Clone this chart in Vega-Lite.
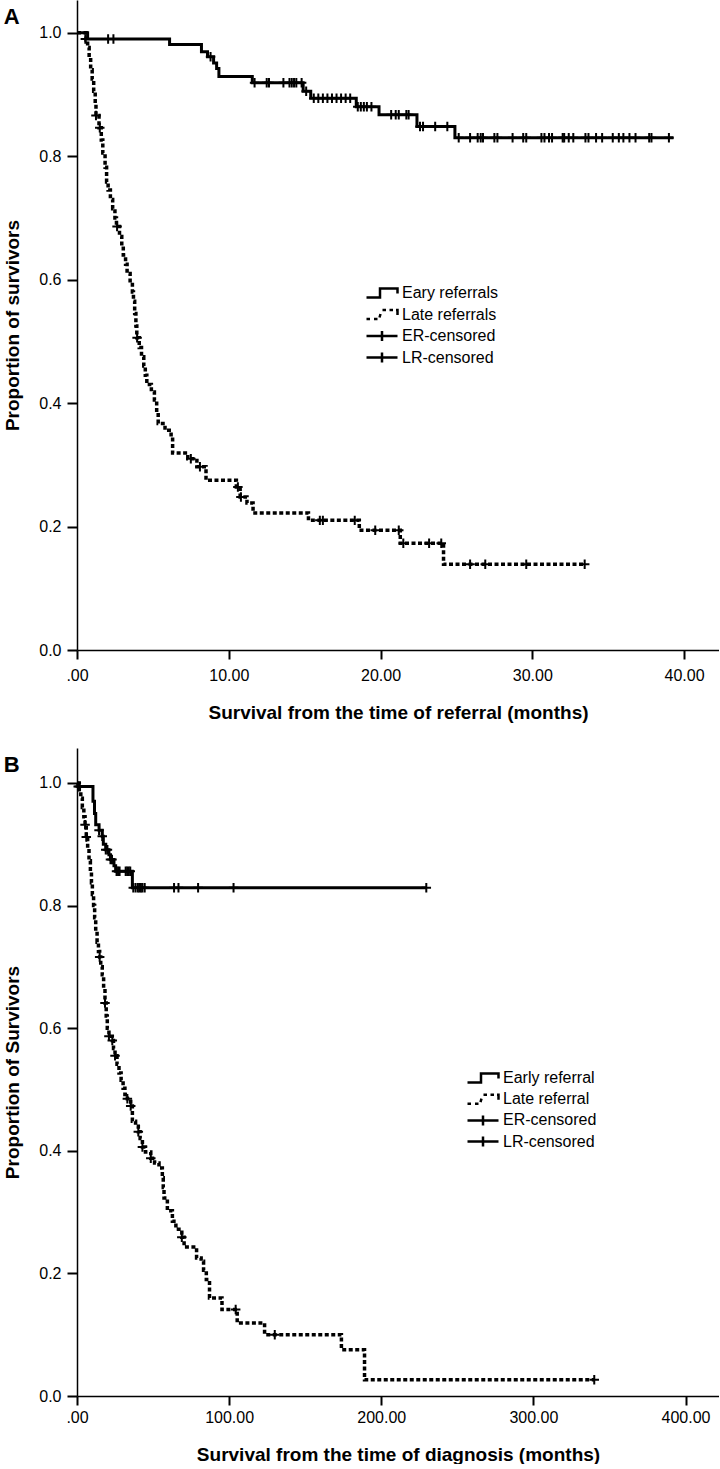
{
  "$schema": "https://vega.github.io/schema/vega-lite/v6.json",
  "padding": {"left": 3, "top": 0, "right": 0, "bottom": 0},
  "background": "white",
  "spacing": 26,
  "config": {
    "view": {"stroke": null},
    "font": "Liberation Sans",
    "axis": {
      "grid": false,
      "domainColor": "black",
      "domainWidth": 1.5,
      "tickColor": "black",
      "tickWidth": 2,
      "labelColor": "black",
      "labelFont": "Liberation Sans",
      "labelFontSize": 16,
      "labelFlush": false,
      "titleFont": "Liberation Sans",
      "titleFontSize": 19,
      "titleFontWeight": "bold",
      "titleColor": "black"
    },
    "legend": {
      "labelFont": "Liberation Sans",
      "labelFontSize": 16,
      "labelColor": "black",
      "padding": 0
    },
    "title": {"font": "Liberation Sans", "color": "black"}
  },
  "datasets": {
    "a": [
      {"g": "E", "k": "s", "t": 0, "s": 1.0},
      {"g": "E", "k": "s", "t": 0.7, "s": 0.99},
      {"g": "E", "k": "s", "t": 6.1, "s": 0.981},
      {"g": "E", "k": "s", "t": 8.2, "s": 0.969},
      {"g": "E", "k": "s", "t": 8.6, "s": 0.961},
      {"g": "E", "k": "s", "t": 9.0, "s": 0.951},
      {"g": "E", "k": "s", "t": 9.2, "s": 0.942},
      {"g": "E", "k": "s", "t": 9.35, "s": 0.929},
      {"g": "E", "k": "s", "t": 11.55, "s": 0.919},
      {"g": "E", "k": "s", "t": 14.9, "s": 0.905},
      {"g": "E", "k": "s", "t": 15.4, "s": 0.894},
      {"g": "E", "k": "s", "t": 18.4, "s": 0.88},
      {"g": "E", "k": "s", "t": 19.9, "s": 0.867},
      {"g": "E", "k": "s", "t": 22.4, "s": 0.848},
      {"g": "E", "k": "s", "t": 24.9, "s": 0.83},
      {"g": "E", "k": "s", "t": 39.3, "s": 0.83},
      {"g": "E", "k": "c", "t": 0.55, "s": 0.99},
      {"g": "E", "k": "c", "t": 2.05, "s": 0.99},
      {"g": "E", "k": "c", "t": 2.4, "s": 0.99},
      {"g": "E", "k": "c", "t": 8.8, "s": 0.961},
      {"g": "E", "k": "c", "t": 11.7, "s": 0.919},
      {"g": "E", "k": "c", "t": 12.5, "s": 0.919},
      {"g": "E", "k": "c", "t": 12.65, "s": 0.919},
      {"g": "E", "k": "c", "t": 13.6, "s": 0.919},
      {"g": "E", "k": "c", "t": 14.0, "s": 0.919},
      {"g": "E", "k": "c", "t": 14.15, "s": 0.919},
      {"g": "E", "k": "c", "t": 14.3, "s": 0.919},
      {"g": "E", "k": "c", "t": 14.45, "s": 0.919},
      {"g": "E", "k": "c", "t": 14.8, "s": 0.919},
      {"g": "E", "k": "c", "t": 15.1, "s": 0.905},
      {"g": "E", "k": "c", "t": 15.6, "s": 0.894},
      {"g": "E", "k": "c", "t": 15.9, "s": 0.894},
      {"g": "E", "k": "c", "t": 16.2, "s": 0.894},
      {"g": "E", "k": "c", "t": 16.5, "s": 0.894},
      {"g": "E", "k": "c", "t": 16.8, "s": 0.894},
      {"g": "E", "k": "c", "t": 17.1, "s": 0.894},
      {"g": "E", "k": "c", "t": 17.4, "s": 0.894},
      {"g": "E", "k": "c", "t": 17.7, "s": 0.894},
      {"g": "E", "k": "c", "t": 18.0, "s": 0.894},
      {"g": "E", "k": "c", "t": 18.5, "s": 0.88},
      {"g": "E", "k": "c", "t": 18.7, "s": 0.88},
      {"g": "E", "k": "c", "t": 18.9, "s": 0.88},
      {"g": "E", "k": "c", "t": 19.1, "s": 0.88},
      {"g": "E", "k": "c", "t": 19.4, "s": 0.88},
      {"g": "E", "k": "c", "t": 20.7, "s": 0.867},
      {"g": "E", "k": "c", "t": 21.0, "s": 0.867},
      {"g": "E", "k": "c", "t": 21.2, "s": 0.867},
      {"g": "E", "k": "c", "t": 21.7, "s": 0.867},
      {"g": "E", "k": "c", "t": 21.85, "s": 0.867},
      {"g": "E", "k": "c", "t": 22.6, "s": 0.848},
      {"g": "E", "k": "c", "t": 22.8, "s": 0.848},
      {"g": "E", "k": "c", "t": 23.6, "s": 0.848},
      {"g": "E", "k": "c", "t": 24.4, "s": 0.848},
      {"g": "E", "k": "c", "t": 25.15, "s": 0.83},
      {"g": "E", "k": "c", "t": 25.9, "s": 0.83},
      {"g": "E", "k": "c", "t": 26.4, "s": 0.83},
      {"g": "E", "k": "c", "t": 26.6, "s": 0.83},
      {"g": "E", "k": "c", "t": 26.75, "s": 0.83},
      {"g": "E", "k": "c", "t": 27.5, "s": 0.83},
      {"g": "E", "k": "c", "t": 27.7, "s": 0.83},
      {"g": "E", "k": "c", "t": 28.7, "s": 0.83},
      {"g": "E", "k": "c", "t": 29.4, "s": 0.83},
      {"g": "E", "k": "c", "t": 29.6, "s": 0.83},
      {"g": "E", "k": "c", "t": 30.6, "s": 0.83},
      {"g": "E", "k": "c", "t": 30.8, "s": 0.83},
      {"g": "E", "k": "c", "t": 31.1, "s": 0.83},
      {"g": "E", "k": "c", "t": 31.3, "s": 0.83},
      {"g": "E", "k": "c", "t": 32.0, "s": 0.83},
      {"g": "E", "k": "c", "t": 32.1, "s": 0.83},
      {"g": "E", "k": "c", "t": 32.4, "s": 0.83},
      {"g": "E", "k": "c", "t": 32.7, "s": 0.83},
      {"g": "E", "k": "c", "t": 33.5, "s": 0.83},
      {"g": "E", "k": "c", "t": 33.7, "s": 0.83},
      {"g": "E", "k": "c", "t": 34.2, "s": 0.83},
      {"g": "E", "k": "c", "t": 34.6, "s": 0.83},
      {"g": "E", "k": "c", "t": 35.3, "s": 0.83},
      {"g": "E", "k": "c", "t": 35.7, "s": 0.83},
      {"g": "E", "k": "c", "t": 36.0, "s": 0.83},
      {"g": "E", "k": "c", "t": 36.4, "s": 0.83},
      {"g": "E", "k": "c", "t": 36.8, "s": 0.83},
      {"g": "E", "k": "c", "t": 37.7, "s": 0.83},
      {"g": "E", "k": "c", "t": 37.85, "s": 0.83},
      {"g": "E", "k": "c", "t": 39.0, "s": 0.83},
      {"g": "L", "k": "s", "t": 0, "s": 1.0},
      {"g": "L", "k": "s", "t": 0.6, "s": 0.988},
      {"g": "L", "k": "s", "t": 0.7, "s": 0.976},
      {"g": "L", "k": "s", "t": 0.8, "s": 0.96},
      {"g": "L", "k": "s", "t": 0.9, "s": 0.94},
      {"g": "L", "k": "s", "t": 1.0, "s": 0.925},
      {"g": "L", "k": "s", "t": 1.1, "s": 0.905},
      {"g": "L", "k": "s", "t": 1.2, "s": 0.885},
      {"g": "L", "k": "s", "t": 1.25, "s": 0.866},
      {"g": "L", "k": "s", "t": 1.45, "s": 0.846},
      {"g": "L", "k": "s", "t": 1.6, "s": 0.826},
      {"g": "L", "k": "s", "t": 1.7, "s": 0.805},
      {"g": "L", "k": "s", "t": 1.85, "s": 0.782},
      {"g": "L", "k": "s", "t": 1.95, "s": 0.758},
      {"g": "L", "k": "s", "t": 2.05, "s": 0.745},
      {"g": "L", "k": "s", "t": 2.2, "s": 0.73},
      {"g": "L", "k": "s", "t": 2.35, "s": 0.715},
      {"g": "L", "k": "s", "t": 2.5, "s": 0.7},
      {"g": "L", "k": "s", "t": 2.6, "s": 0.686},
      {"g": "L", "k": "s", "t": 2.8, "s": 0.67},
      {"g": "L", "k": "s", "t": 2.95, "s": 0.655},
      {"g": "L", "k": "s", "t": 3.05, "s": 0.64},
      {"g": "L", "k": "s", "t": 3.2, "s": 0.625},
      {"g": "L", "k": "s", "t": 3.3, "s": 0.61},
      {"g": "L", "k": "s", "t": 3.5, "s": 0.595},
      {"g": "L", "k": "s", "t": 3.65, "s": 0.58},
      {"g": "L", "k": "s", "t": 3.72, "s": 0.565},
      {"g": "L", "k": "s", "t": 3.8, "s": 0.545},
      {"g": "L", "k": "s", "t": 3.88, "s": 0.525},
      {"g": "L", "k": "s", "t": 3.94, "s": 0.506},
      {"g": "L", "k": "s", "t": 4.1, "s": 0.49},
      {"g": "L", "k": "s", "t": 4.25, "s": 0.475},
      {"g": "L", "k": "s", "t": 4.4, "s": 0.46},
      {"g": "L", "k": "s", "t": 4.5, "s": 0.445},
      {"g": "L", "k": "s", "t": 4.6, "s": 0.43},
      {"g": "L", "k": "s", "t": 4.9, "s": 0.418},
      {"g": "L", "k": "s", "t": 5.1, "s": 0.405},
      {"g": "L", "k": "s", "t": 5.25, "s": 0.385},
      {"g": "L", "k": "s", "t": 5.35, "s": 0.367},
      {"g": "L", "k": "s", "t": 5.8, "s": 0.356},
      {"g": "L", "k": "s", "t": 6.2, "s": 0.345},
      {"g": "L", "k": "s", "t": 6.3, "s": 0.319},
      {"g": "L", "k": "s", "t": 7.3, "s": 0.31},
      {"g": "L", "k": "s", "t": 7.9, "s": 0.297},
      {"g": "L", "k": "s", "t": 8.5, "s": 0.275},
      {"g": "L", "k": "s", "t": 10.5, "s": 0.264},
      {"g": "L", "k": "s", "t": 10.75, "s": 0.248},
      {"g": "L", "k": "s", "t": 11.2, "s": 0.238},
      {"g": "L", "k": "s", "t": 11.6, "s": 0.222},
      {"g": "L", "k": "s", "t": 15.25, "s": 0.21},
      {"g": "L", "k": "s", "t": 18.6, "s": 0.194},
      {"g": "L", "k": "s", "t": 21.3, "s": 0.173},
      {"g": "L", "k": "s", "t": 24.15, "s": 0.139},
      {"g": "L", "k": "s", "t": 33.45, "s": 0.139},
      {"g": "L", "k": "c", "t": 1.25, "s": 0.866},
      {"g": "L", "k": "c", "t": 1.5, "s": 0.846},
      {"g": "L", "k": "c", "t": 2.64, "s": 0.686},
      {"g": "L", "k": "c", "t": 3.96, "s": 0.506},
      {"g": "L", "k": "c", "t": 7.5, "s": 0.31},
      {"g": "L", "k": "c", "t": 8.1, "s": 0.297},
      {"g": "L", "k": "c", "t": 10.6, "s": 0.264},
      {"g": "L", "k": "c", "t": 10.8, "s": 0.248},
      {"g": "L", "k": "c", "t": 16.0, "s": 0.21},
      {"g": "L", "k": "c", "t": 16.2, "s": 0.21},
      {"g": "L", "k": "c", "t": 18.3, "s": 0.21},
      {"g": "L", "k": "c", "t": 19.65, "s": 0.194},
      {"g": "L", "k": "c", "t": 21.2, "s": 0.194},
      {"g": "L", "k": "c", "t": 21.5, "s": 0.173},
      {"g": "L", "k": "c", "t": 23.2, "s": 0.173},
      {"g": "L", "k": "c", "t": 24.0, "s": 0.173},
      {"g": "L", "k": "c", "t": 25.9, "s": 0.139},
      {"g": "L", "k": "c", "t": 26.9, "s": 0.139},
      {"g": "L", "k": "c", "t": 29.6, "s": 0.139},
      {"g": "L", "k": "c", "t": 33.45, "s": 0.139}
    ],
    "b": [
      {"g": "E", "k": "s", "t": 0, "s": 1.0},
      {"g": "E", "k": "s", "t": 0.5, "s": 0.994},
      {"g": "E", "k": "s", "t": 10.5, "s": 0.97},
      {"g": "E", "k": "s", "t": 11.5, "s": 0.95},
      {"g": "E", "k": "s", "t": 12.3, "s": 0.932},
      {"g": "E", "k": "s", "t": 14.5, "s": 0.923},
      {"g": "E", "k": "s", "t": 16.6, "s": 0.913},
      {"g": "E", "k": "s", "t": 17.3, "s": 0.9},
      {"g": "E", "k": "s", "t": 18.9, "s": 0.891},
      {"g": "E", "k": "s", "t": 21, "s": 0.883},
      {"g": "E", "k": "s", "t": 22, "s": 0.875},
      {"g": "E", "k": "s", "t": 24.3, "s": 0.865},
      {"g": "E", "k": "s", "t": 25.4, "s": 0.856},
      {"g": "E", "k": "s", "t": 36.4, "s": 0.829},
      {"g": "E", "k": "s", "t": 229.6, "s": 0.829},
      {"g": "E", "k": "c", "t": 0.8, "s": 0.994},
      {"g": "E", "k": "c", "t": 1.5, "s": 0.994},
      {"g": "E", "k": "c", "t": 14.5, "s": 0.923},
      {"g": "E", "k": "c", "t": 16.6, "s": 0.913},
      {"g": "E", "k": "c", "t": 18.9, "s": 0.891},
      {"g": "E", "k": "c", "t": 20, "s": 0.891},
      {"g": "E", "k": "c", "t": 22, "s": 0.875},
      {"g": "E", "k": "c", "t": 23, "s": 0.875},
      {"g": "E", "k": "c", "t": 26, "s": 0.856},
      {"g": "E", "k": "c", "t": 27, "s": 0.856},
      {"g": "E", "k": "c", "t": 28, "s": 0.856},
      {"g": "E", "k": "c", "t": 32, "s": 0.856},
      {"g": "E", "k": "c", "t": 33, "s": 0.856},
      {"g": "E", "k": "c", "t": 34, "s": 0.856},
      {"g": "E", "k": "c", "t": 35, "s": 0.856},
      {"g": "E", "k": "c", "t": 37, "s": 0.829},
      {"g": "E", "k": "c", "t": 38.5, "s": 0.829},
      {"g": "E", "k": "c", "t": 40, "s": 0.829},
      {"g": "E", "k": "c", "t": 41, "s": 0.829},
      {"g": "E", "k": "c", "t": 42, "s": 0.829},
      {"g": "E", "k": "c", "t": 43, "s": 0.829},
      {"g": "E", "k": "c", "t": 44.5, "s": 0.829},
      {"g": "E", "k": "c", "t": 63.8, "s": 0.829},
      {"g": "E", "k": "c", "t": 66.7, "s": 0.829},
      {"g": "E", "k": "c", "t": 79.6, "s": 0.829},
      {"g": "E", "k": "c", "t": 102.9, "s": 0.829},
      {"g": "E", "k": "c", "t": 229.6, "s": 0.829},
      {"g": "L", "k": "s", "t": 0, "s": 1.0},
      {"g": "L", "k": "s", "t": 1.5, "s": 0.985},
      {"g": "L", "k": "s", "t": 2.5, "s": 0.975},
      {"g": "L", "k": "s", "t": 3.5, "s": 0.96},
      {"g": "L", "k": "s", "t": 4.5, "s": 0.945},
      {"g": "L", "k": "s", "t": 5.3, "s": 0.932},
      {"g": "L", "k": "s", "t": 6.1, "s": 0.912},
      {"g": "L", "k": "s", "t": 7.0, "s": 0.893},
      {"g": "L", "k": "s", "t": 7.9, "s": 0.873},
      {"g": "L", "k": "s", "t": 8.8, "s": 0.855},
      {"g": "L", "k": "s", "t": 9.5, "s": 0.837},
      {"g": "L", "k": "s", "t": 10.1, "s": 0.818},
      {"g": "L", "k": "s", "t": 10.9, "s": 0.8},
      {"g": "L", "k": "s", "t": 11.6, "s": 0.78},
      {"g": "L", "k": "s", "t": 12.3, "s": 0.758},
      {"g": "L", "k": "s", "t": 13.2, "s": 0.74},
      {"g": "L", "k": "s", "t": 14.1, "s": 0.725},
      {"g": "L", "k": "s", "t": 14.9, "s": 0.716},
      {"g": "L", "k": "s", "t": 15.6, "s": 0.7},
      {"g": "L", "k": "s", "t": 16.6, "s": 0.687},
      {"g": "L", "k": "s", "t": 17.5, "s": 0.665},
      {"g": "L", "k": "s", "t": 18.4, "s": 0.641},
      {"g": "L", "k": "s", "t": 19.2, "s": 0.62},
      {"g": "L", "k": "s", "t": 19.9, "s": 0.6},
      {"g": "L", "k": "s", "t": 21.0, "s": 0.587},
      {"g": "L", "k": "s", "t": 23.2, "s": 0.58},
      {"g": "L", "k": "s", "t": 24.0, "s": 0.567},
      {"g": "L", "k": "s", "t": 25.0, "s": 0.555},
      {"g": "L", "k": "s", "t": 26.3, "s": 0.541},
      {"g": "L", "k": "s", "t": 27.6, "s": 0.527},
      {"g": "L", "k": "s", "t": 29.0, "s": 0.515},
      {"g": "L", "k": "s", "t": 30.3, "s": 0.502},
      {"g": "L", "k": "s", "t": 31.5, "s": 0.492},
      {"g": "L", "k": "s", "t": 33.1, "s": 0.485},
      {"g": "L", "k": "s", "t": 35.3, "s": 0.473},
      {"g": "L", "k": "s", "t": 36.4, "s": 0.448},
      {"g": "L", "k": "s", "t": 38.5, "s": 0.44},
      {"g": "L", "k": "s", "t": 40.3, "s": 0.431},
      {"g": "L", "k": "s", "t": 41.5, "s": 0.42},
      {"g": "L", "k": "s", "t": 43.0, "s": 0.406},
      {"g": "L", "k": "s", "t": 45.0, "s": 0.398},
      {"g": "L", "k": "s", "t": 48.5, "s": 0.388},
      {"g": "L", "k": "s", "t": 51.0, "s": 0.38},
      {"g": "L", "k": "s", "t": 53.9, "s": 0.372},
      {"g": "L", "k": "s", "t": 56.1, "s": 0.356},
      {"g": "L", "k": "s", "t": 56.7, "s": 0.34},
      {"g": "L", "k": "s", "t": 57.2, "s": 0.323},
      {"g": "L", "k": "s", "t": 59.4, "s": 0.302},
      {"g": "L", "k": "s", "t": 62.7, "s": 0.285},
      {"g": "L", "k": "s", "t": 65.0, "s": 0.272},
      {"g": "L", "k": "s", "t": 68.9, "s": 0.259},
      {"g": "L", "k": "s", "t": 70.4, "s": 0.243},
      {"g": "L", "k": "s", "t": 78.6, "s": 0.225},
      {"g": "L", "k": "s", "t": 81.6, "s": 0.22},
      {"g": "L", "k": "s", "t": 83.2, "s": 0.205},
      {"g": "L", "k": "s", "t": 85.0, "s": 0.19},
      {"g": "L", "k": "s", "t": 87.1, "s": 0.16},
      {"g": "L", "k": "s", "t": 95.3, "s": 0.141},
      {"g": "L", "k": "s", "t": 105.3, "s": 0.119},
      {"g": "L", "k": "s", "t": 123.3, "s": 0.1},
      {"g": "L", "k": "s", "t": 173.8, "s": 0.0755},
      {"g": "L", "k": "s", "t": 189.0, "s": 0.0266},
      {"g": "L", "k": "s", "t": 340.0, "s": 0.0266},
      {"g": "L", "k": "c", "t": 5.3, "s": 0.932},
      {"g": "L", "k": "c", "t": 6.1, "s": 0.912},
      {"g": "L", "k": "c", "t": 14.9, "s": 0.716},
      {"g": "L", "k": "c", "t": 18.4, "s": 0.641},
      {"g": "L", "k": "c", "t": 21.0, "s": 0.587},
      {"g": "L", "k": "c", "t": 23.2, "s": 0.58},
      {"g": "L", "k": "c", "t": 25.0, "s": 0.555},
      {"g": "L", "k": "c", "t": 33.1, "s": 0.485},
      {"g": "L", "k": "c", "t": 35.3, "s": 0.473},
      {"g": "L", "k": "c", "t": 40.3, "s": 0.431},
      {"g": "L", "k": "c", "t": 43.0, "s": 0.406},
      {"g": "L", "k": "c", "t": 48.5, "s": 0.388},
      {"g": "L", "k": "c", "t": 68.9, "s": 0.259},
      {"g": "L", "k": "c", "t": 104.3, "s": 0.141},
      {"g": "L", "k": "c", "t": 130.0, "s": 0.1},
      {"g": "L", "k": "c", "t": 340.0, "s": 0.0266}
    ],
    "legA": [
      {"lab": "Eary referrals"},
      {"lab": "Late referrals"},
      {"lab": "ER-censored"},
      {"lab": "LR-censored"}
    ],
    "legB": [
      {"lab": "Early referral"},
      {"lab": "Late referral"},
      {"lab": "ER-censored"},
      {"lab": "LR-censored"}
    ]
  },
  "resolve": {"scale": {"shape": "independent", "x": "independent", "y": "independent"}, "legend": {"shape": "independent"}},
  "vconcat": [
    {
      "width": 642,
      "height": 650,
      "title": {"text": "A", "anchor": "start", "frame": "bounds", "fontSize": 22, "fontWeight": "bold", "offset": -2, "dy": 27, "dx": 0},
      "data": {"name": "a"},
      "layer": [
        {
          "transform": [{"filter": "datum.k == 's' && datum.g == 'E'"}],
          "mark": {"type": "line", "interpolate": "step-after", "color": "black", "strokeWidth": 3},
          "encoding": {
            "x": {"field": "t", "type": "quantitative", "scale": {"domain": [0, 42.3], "nice": false, "zero": false},
              "axis": {"values": [0, 10, 20, 30, 40], "labelExpr": "datum.value == 0 ? '.00' : format(datum.value, '.2f')", "tickSize": 9, "labelPadding": 8, "titlePadding": 20, "title": "Survival from the time of referral (months)"}},
            "y": {"field": "s", "type": "quantitative", "scale": {"domain": [0, 1.053], "nice": false},
              "axis": {"values": [0, 0.2, 0.4, 0.6, 0.8, 1.0], "format": ".1f", "tickSize": 10, "labelPadding": 6, "titlePadding": 16, "title": "Proportion of survivors"}}
          }
        },
        {
          "transform": [{"filter": "datum.k == 's' && datum.g == 'L'"}],
          "mark": {"type": "line", "interpolate": "step-after", "color": "black", "strokeWidth": 3.5, "strokeDash": [4, 2.5]},
          "encoding": {
            "x": {"field": "t", "type": "quantitative"},
            "y": {"field": "s", "type": "quantitative"}
          }
        },
        {
          "transform": [{"filter": "datum.k == 'c'"}],
          "mark": {"type": "point", "shape": "M-1,0L1,0M0,-1L0,1", "size": 90, "filled": false, "color": "black", "strokeWidth": 2, "opacity": 1},
          "encoding": {
            "x": {"field": "t", "type": "quantitative"},
            "y": {"field": "s", "type": "quantitative"}
          }
        },
        {
          "data": {"name": "legA"},
          "transform": [{"filter": "datum.lab == 'none'"}],
          "mark": {"type": "point", "filled": false, "color": "black", "strokeWidth": 2, "opacity": 1},
          "encoding": {
            "shape": {"field": "lab", "type": "nominal",
              "scale": {"domain": ["Eary referrals", "Late referrals", "ER-censored", "LR-censored"],
                "range": ["M-3.1,0.9L-0.4,0.9L-0.4,-0.9L3.1,-0.9L3.1,0.1", "M-3.1,0.9L-2.4,0.9M-1.6,0.9L-0.9,0.9M-0.5,0.6L-0.3,-0.1M0.1,-0.9L0.8,-0.9M1.5,-0.9L2.2,-0.9M2.8,-0.9L3.1,-0.9L3.1,0.1", "M-3.1,0L3.1,0M0,-1L0,1", "M-3.1,0L3.1,0M0,-1L0,1"]},
              "legend": {"orient": "none", "legendX": 297, "legendY": 285, "title": null, "symbolSize": 100, "symbolStrokeColor": "black", "symbolFillColor": "transparent", "symbolStrokeWidth": 2.5, "symbolOpacity": 1, "labelOffset": 12, "rowPadding": 1.5, "labelFontSize": 16}}
          }
        }
      ]
    },
    {
      "width": 642,
      "height": 648,
      "title": {"text": "B", "anchor": "start", "frame": "bounds", "fontSize": 22, "fontWeight": "bold", "offset": -2, "dy": 27, "dx": 0},
      "data": {"name": "b"},
      "layer": [
        {
          "transform": [{"filter": "datum.k == 's' && datum.g == 'E'"}],
          "mark": {"type": "line", "interpolate": "step-after", "color": "black", "strokeWidth": 3},
          "encoding": {
            "x": {"field": "t", "type": "quantitative", "scale": {"domain": [0, 422], "nice": false, "zero": false},
              "axis": {"values": [0, 100, 200, 300, 400], "labelExpr": "datum.value == 0 ? '.00' : format(datum.value, '.2f')", "tickSize": 9, "labelPadding": 4, "titlePadding": 20, "title": "Survival from the time of diagnosis (months)"}},
            "y": {"field": "s", "type": "quantitative", "scale": {"domain": [0, 1.057], "nice": false},
              "axis": {"values": [0, 0.2, 0.4, 0.6, 0.8, 1.0], "format": ".1f", "tickSize": 10, "labelPadding": 6, "titlePadding": 16, "title": "Proportion of Survivors"}}
          }
        },
        {
          "transform": [{"filter": "datum.k == 's' && datum.g == 'L'"}],
          "mark": {"type": "line", "interpolate": "step-after", "color": "black", "strokeWidth": 3.5, "strokeDash": [4, 2.5]},
          "encoding": {
            "x": {"field": "t", "type": "quantitative"},
            "y": {"field": "s", "type": "quantitative"}
          }
        },
        {
          "transform": [{"filter": "datum.k == 'c'"}],
          "mark": {"type": "point", "shape": "M-1,0L1,0M0,-1L0,1", "size": 90, "filled": false, "color": "black", "strokeWidth": 2, "opacity": 1},
          "encoding": {
            "x": {"field": "t", "type": "quantitative"},
            "y": {"field": "s", "type": "quantitative"}
          }
        },
        {
          "data": {"name": "legB"},
          "transform": [{"filter": "datum.lab == 'none'"}],
          "mark": {"type": "point", "filled": false, "color": "black", "strokeWidth": 2, "opacity": 1},
          "encoding": {
            "shape": {"field": "lab", "type": "nominal",
              "scale": {"domain": ["Early referral", "Late referral", "ER-censored", "LR-censored"],
                "range": ["M-3.1,0.9L-0.4,0.9L-0.4,-0.9L3.1,-0.9L3.1,0.1", "M-3.1,0.9L-2.4,0.9M-1.6,0.9L-0.9,0.9M-0.5,0.6L-0.3,-0.1M0.1,-0.9L0.8,-0.9M1.5,-0.9L2.2,-0.9M2.8,-0.9L3.1,-0.9L3.1,0.1", "M-3.1,0L3.1,0M0,-1L0,1", "M-3.1,0L3.1,0M0,-1L0,1"]},
              "legend": {"orient": "none", "legendX": 398, "legendY": 322, "title": null, "symbolSize": 100, "symbolStrokeColor": "black", "symbolFillColor": "transparent", "symbolStrokeWidth": 2.5, "symbolOpacity": 1, "labelOffset": 12, "rowPadding": 1.2, "labelFontSize": 16}}
          }
        }
      ]
    }
  ]
}
